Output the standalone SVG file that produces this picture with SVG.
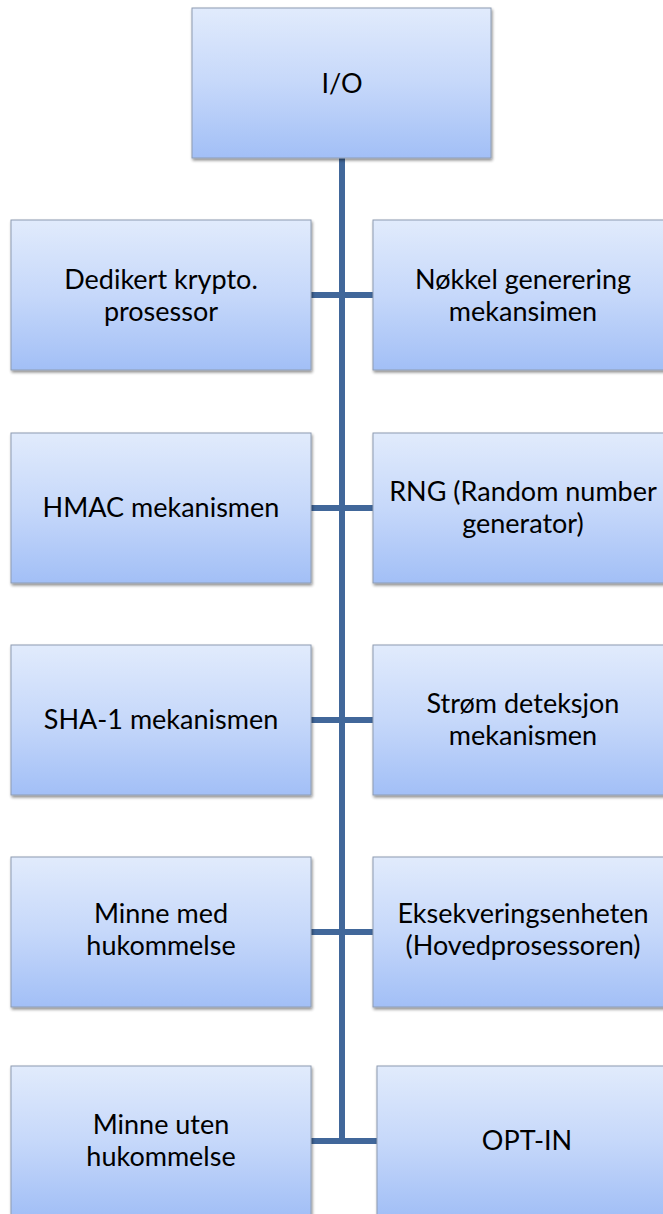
<svg xmlns="http://www.w3.org/2000/svg" width="663" height="1214" viewBox="0 0 663 1214">
  <defs>
    <linearGradient id="boxFill" x1="0" y1="0" x2="0" y2="1">
      <stop offset="0" stop-color="#E1EBFC"/>
      <stop offset="0.5" stop-color="#C6D8FA"/>
      <stop offset="1" stop-color="#A2BFF6"/>
    </linearGradient>
    <filter id="shadow" x="-5%" y="-5%" width="115%" height="115%">
      <feGaussianBlur in="SourceAlpha" stdDeviation="1.5"/>
      <feOffset dx="1" dy="2" result="b"/>
      <feComponentTransfer><feFuncA type="linear" slope="0.45"/></feComponentTransfer>
      <feMerge><feMergeNode/><feMergeNode in="SourceGraphic"/></feMerge>
    </filter>
  </defs>
  <style>
    .box { fill: url(#boxFill); stroke: #8E9CB2; stroke-width: 1; filter: url(#shadow); }
    .label { font-family: Lato, "Open Sans", "Liberation Sans", sans-serif; font-size: 27px; fill: #000; text-anchor: middle; }
    .wire { stroke: #41679A; stroke-width: 6; fill: none; }
  </style>

  <g id="connectors">
    <line class="wire" x1="342" y1="158" x2="342" y2="1144"/>
    <line class="wire" x1="311" y1="295" x2="373" y2="295"/>
    <line class="wire" x1="311" y1="508" x2="373" y2="508"/>
    <line class="wire" x1="311" y1="720" x2="373" y2="720"/>
    <line class="wire" x1="311" y1="932" x2="373" y2="932"/>
    <line class="wire" x1="311" y1="1141" x2="377" y2="1141"/>
  </g>

  <g id="io">
    <rect class="box" x="192" y="8" width="299" height="150"/>
    <text class="label" x="342" y="93">I/O</text>
  </g>

  <g id="krypto">
    <rect class="box" x="11" y="220" width="300" height="150"/>
    <text class="label" x="161" y="289">Dedikert krypto.</text>
    <text class="label" x="161" y="321">prosessor</text>
  </g>
  <g id="nokkel">
    <rect class="box" x="373" y="220" width="300" height="150"/>
    <text class="label" x="523" y="289">Nøkkel generering</text>
    <text class="label" x="523" y="321">mekansimen</text>
  </g>

  <g id="hmac">
    <rect class="box" x="11" y="433" width="300" height="150"/>
    <text class="label" x="161" y="517">HMAC mekanismen</text>
  </g>
  <g id="rng">
    <rect class="box" x="373" y="433" width="300" height="150"/>
    <text class="label" x="523" y="501">RNG (Random number</text>
    <text class="label" x="523" y="533">generator)</text>
  </g>

  <g id="sha1">
    <rect class="box" x="11" y="645" width="300" height="150"/>
    <text class="label" x="161" y="729">SHA-1 mekanismen</text>
  </g>
  <g id="strom">
    <rect class="box" x="373" y="645" width="300" height="150"/>
    <text class="label" x="523" y="713">Strøm deteksjon</text>
    <text class="label" x="523" y="745">mekanismen</text>
  </g>

  <g id="minne-med">
    <rect class="box" x="11" y="857" width="300" height="150"/>
    <text class="label" x="161" y="923">Minne med</text>
    <text class="label" x="161" y="955">hukommelse</text>
  </g>
  <g id="eksekvering">
    <rect class="box" x="373" y="857" width="300" height="150"/>
    <text class="label" x="523" y="923">Eksekveringsenheten</text>
    <text class="label" x="523" y="955">(Hovedprosessoren)</text>
  </g>

  <g id="minne-uten">
    <rect class="box" x="11" y="1066" width="300" height="150"/>
    <text class="label" x="161" y="1134">Minne uten</text>
    <text class="label" x="161" y="1166">hukommelse</text>
  </g>
  <g id="optin">
    <rect class="box" x="377" y="1066" width="300" height="150"/>
    <text class="label" x="527" y="1150">OPT-IN</text>
  </g>
</svg>
